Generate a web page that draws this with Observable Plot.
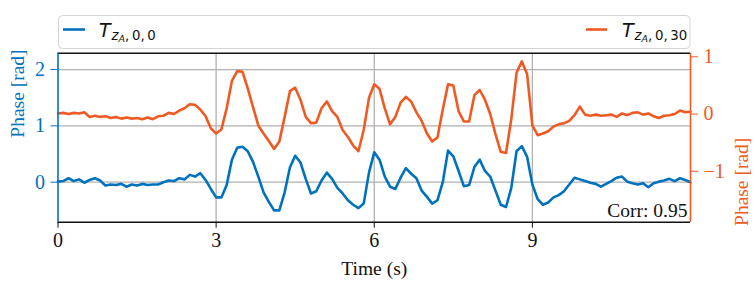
<!DOCTYPE html>
<html><head><meta charset="utf-8">
<script src="https://cdn.jsdelivr.net/npm/d3@7"></script>
<script src="https://cdn.jsdelivr.net/npm/@observablehq/plot@0.6"></script>
<style>
body{margin:0;background:#fff;}
#wrap{position:relative;width:756px;height:285px;overflow:hidden;}
#wrap svg{position:absolute;left:0;top:0;}
</style>
</head><body>
<div id="wrap"></div>
<script>
const timeS = [0,0.1,0.2,0.3,0.4,0.5,0.6,0.7,0.8,0.9,1,1.1,1.2,1.3,1.4,1.5,1.6,1.7,1.8,1.9,2,2.1,2.2,2.3,2.4,2.5,2.6,2.7,2.8,2.9,3,3.1,3.2,3.3,3.4,3.5,3.6,3.7,3.8,3.9,4,4.1,4.2,4.3,4.4,4.5,4.6,4.7,4.8,4.9,5,5.1,5.2,5.3,5.4,5.5,5.6,5.7,5.8,5.9,6,6.1,6.2,6.3,6.4,6.5,6.6,6.7,6.8,6.9,7,7.1,7.2,7.3,7.4,7.5,7.6,7.7,7.8,7.9,8,8.1,8.2,8.3,8.4,8.5,8.6,8.7,8.8,8.9,9,9.1,9.2,9.3,9.4,9.5,9.6,9.7,9.8,9.9,10,10.1,10.2,10.3,10.4,10.5,10.6,10.7,10.8,10.9,11,11.1,11.2,11.3,11.4,11.5,11.6,11.7,11.8,11.9,12];

// T_{zA,0,0} phase (left axis)
const phase00 = [
0.01,0.02,0.07,0.02,0.05,-0.01,0.04,0.07,0.03,-0.06,
-0.04,-0.05,-0.03,-0.08,-0.04,-0.06,-0.03,-0.05,-0.04,-0.04,
0.00,0.03,0.02,0.07,0.05,0.13,0.10,0.16,0.04,-0.12,
-0.27,-0.27,-0.05,0.40,0.61,0.63,0.55,0.36,0.10,-0.18,
-0.35,-0.50,-0.50,-0.18,0.26,0.47,0.35,0.06,-0.20,-0.16,
0.03,0.17,0.06,-0.10,-0.20,-0.32,-0.40,-0.46,-0.38,0.17,
0.53,0.40,0.10,-0.08,-0.12,0.08,0.25,0.15,0.07,-0.15,
-0.26,-0.38,-0.32,0.00,0.56,0.46,0.20,-0.07,-0.05,0.27,
0.40,0.20,0.10,-0.15,-0.40,-0.44,-0.10,0.55,0.64,0.45,
-0.04,-0.30,-0.40,-0.36,-0.27,-0.23,-0.16,-0.04,0.08,0.05,
0.02,-0.01,-0.03,-0.08,-0.03,0.02,0.08,0.10,0.01,-0.02,
-0.04,-0.02,-0.09,-0.02,0.01,0.03,0.06,0.02,0.07,0.04,
0.00];

// T_{zA,0,30} phase (right axis)
const phase030 = [
0.01,0.02,0.00,0.02,0.01,0.03,-0.05,-0.03,-0.05,-0.04,
-0.07,-0.05,-0.08,-0.06,-0.08,-0.07,-0.09,-0.06,-0.09,-0.04,
-0.03,0.02,0.00,0.06,0.10,0.17,0.16,0.08,-0.04,-0.25,
-0.34,-0.27,0.10,0.58,0.75,0.74,0.45,0.12,-0.20,-0.34,
-0.47,-0.61,-0.48,-0.05,0.40,0.46,0.25,-0.05,-0.16,-0.15,
0.10,0.22,0.05,-0.05,-0.28,-0.40,-0.55,-0.65,-0.28,0.28,
0.52,0.44,0.10,-0.18,-0.05,0.20,0.30,0.22,0.03,-0.12,
-0.34,-0.48,-0.41,0.08,0.52,0.50,0.05,-0.13,-0.13,0.33,
0.42,0.25,0.00,-0.35,-0.66,-0.68,-0.09,0.72,0.92,0.70,
-0.20,-0.37,-0.34,-0.30,-0.22,-0.18,-0.16,-0.12,-0.02,0.13,
-0.01,-0.03,-0.01,-0.03,-0.02,-0.01,-0.05,0.01,-0.02,0.02,
0.03,-0.01,0.01,-0.04,-0.07,-0.03,-0.02,0.00,0.06,0.03,
0.04];

const xTicks = [0, 3, 6, 9];
const leftTicks = [0, 1, 2];
const rightTicks = [-1, 0, 1];
const corrText = "Corr: 0.95";

const BLUE = "#0072BD", ORANGE = "#F05A22";
const L = [-0.71, 2.29], R = [-1.89, 1.063];
const toLeft = r => L[0] + (r - R[0]) * (L[1] - L[0]) / (R[1] - R[0]);
const toRight = l => R[0] + (l - L[0]) * (R[1] - R[0]) / (L[1] - L[0]);
const fmt = v => { const r = Math.round(v); return (r < 0 ? "\u2212" : "") + Math.abs(r); };

const rowsA = timeS.map((t, i) => ({t, v: phase00[i]}));
const rowsB = timeS.map((t, i) => ({t, v: toLeft(phase030[i])}));

const serif = "'Liberation Serif', 'Times New Roman', serif";
const chart = Plot.plot({
  width: 756, height: 285,
  marginTop: 52.7, marginBottom: 63.3, marginLeft: 57.5, marginRight: 66,
  x: {domain: [0, 12]},
  y: {domain: L},
  style: {fontFamily: serif, fontSize: "20px", background: "transparent", overflow: "visible"},
  marks: [
    Plot.gridX(xTicks.slice(1), {stroke: "#b0b0b0", strokeOpacity: 1, strokeWidth: 1.3}),
    Plot.gridY(leftTicks, {stroke: "#b0b0b0", strokeOpacity: 1, strokeWidth: 1.3}),
    Plot.line(rowsB, {x: "t", y: "v", stroke: ORANGE, strokeWidth: 2.6, strokeLinejoin: "round"}),
    Plot.line(rowsA, {x: "t", y: "v", stroke: BLUE, strokeWidth: 2.6, strokeLinejoin: "round"}),
    Plot.ruleY([L[1], L[0]], {stroke: "#111", strokeWidth: 1.6}),
    Plot.ruleX([0], {stroke: BLUE, strokeWidth: 1.6}),
    Plot.ruleX([12], {stroke: ORANGE, strokeWidth: 1.6}),
    Plot.axisX(xTicks, {tickSize: 6, tickPadding: 5, stroke: "#111", fill: "#111", label: null, fontSize: 20, tickFormat: d => fmt(d)}),
    Plot.axisY(leftTicks, {anchor: "left", tickSize: 7, tickPadding: 6, stroke: BLUE, fill: BLUE, label: null, fontSize: 20, tickFormat: d => fmt(d)}),
    Plot.axisY(rightTicks.map(toLeft), {anchor: "right", tickSize: 7, tickPadding: 6, stroke: ORANGE, fill: ORANGE, label: null, fontSize: 20, tickFormat: d => fmt(toRight(d))}),
    Plot.text(["Time (s)"], {frameAnchor: "bottom", lineAnchor: "top", dy: 39, fill: "#111", fontSize: 19.5}),
    Plot.text(["Phase [rad]"], {frameAnchor: "left", rotate: -90, dx: -40, fill: BLUE, fontSize: 19.5}),
    Plot.text(["Phase [rad]"], {frameAnchor: "right", rotate: -90, dx: 51, fill: ORANGE, fontSize: 19.5}),
    Plot.text([corrText], {frameAnchor: "bottom-right", textAnchor: "end", lineAnchor: "bottom", dx: -3, dy: -5, fill: "#111", fontSize: 19.5})
  ]
});
document.getElementById("wrap").appendChild(chart);

// Legend (above the axes)
const leg = d3.select("#wrap").append("svg").attr("width", 756).attr("height", 60)
  .style("font-family", "'DejaVu Sans', sans-serif");
leg.append("rect").attr("x", 58.5).attr("y", 15.5).attr("width", 631.5).attr("height", 33)
  .attr("rx", 4).attr("fill", "#fff").attr("fill-opacity", 0.85).attr("stroke", "#d4d4d4").attr("stroke-width", 1);
const entries = [
  {color: BLUE, x0: 63, x1: 85, tx: 99, sub: ",\u20090,\u20090"},
  {color: ORANGE, x0: 586, x1: 607, tx: 622, sub: ",\u20090,\u200930"}
];
entries.forEach(e => {
  leg.append("line").attr("x1", e.x0).attr("x2", e.x1).attr("y1", 29.5).attr("y2", 29.5)
    .attr("stroke", e.color).attr("stroke-width", 2.6);
  const t = leg.append("text").attr("x", e.tx).attr("y", 37.3).attr("fill", "#111");
  t.append("tspan").attr("font-size", 19).attr("font-style", "italic").text("T");
  t.append("tspan").attr("font-size", 13.3).attr("font-style", "italic").attr("dy", 2.2).attr("dx", 1).text("z");
  t.append("tspan").attr("font-size", 9.5).attr("font-style", "italic").attr("dy", 2).text("A");
  t.append("tspan").attr("font-size", 13.3).attr("dy", -2).text(e.sub);
});
</script>
</body></html>
